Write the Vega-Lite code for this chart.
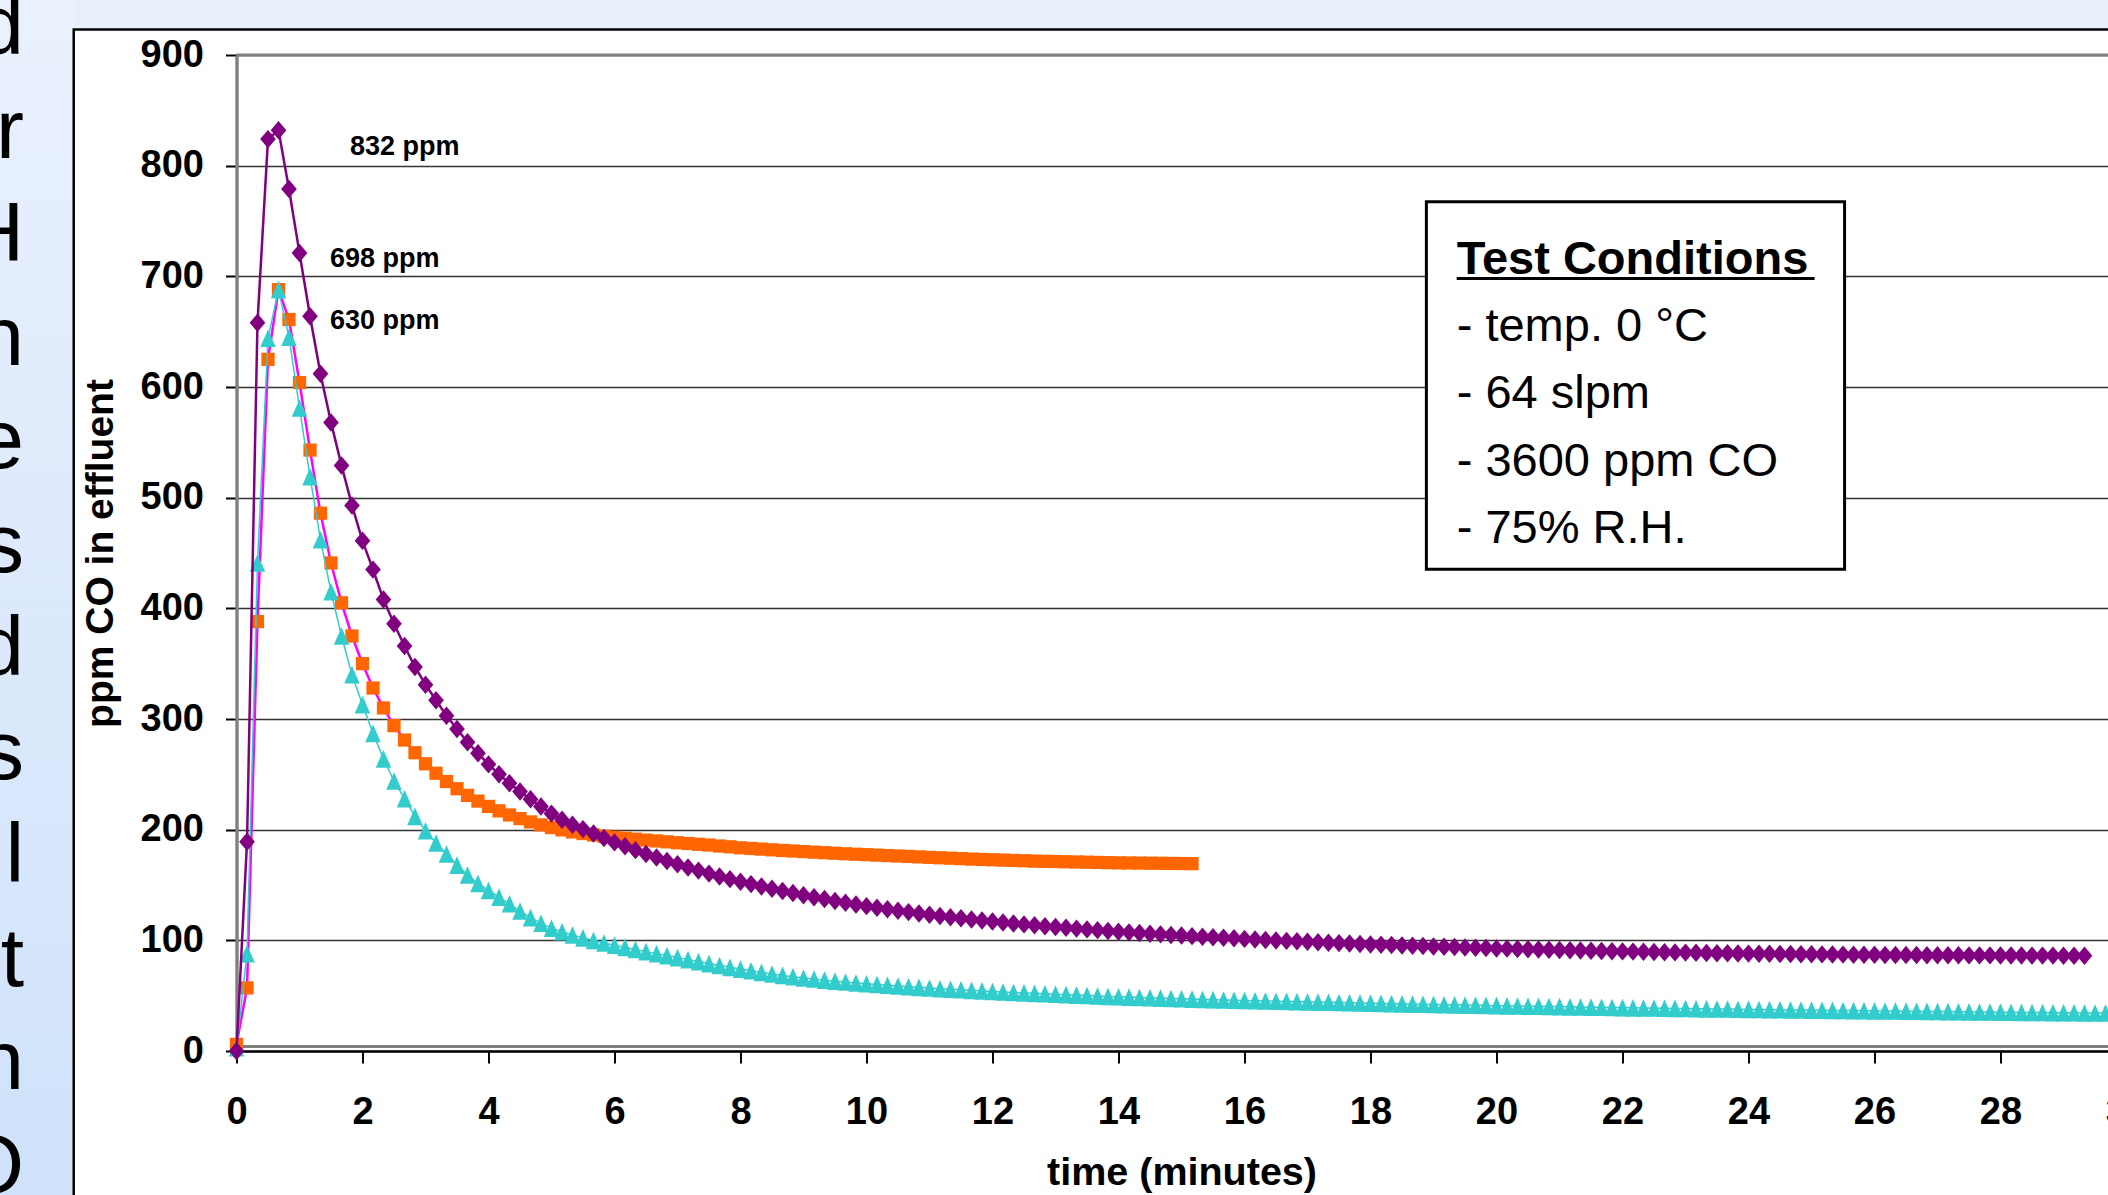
{
  "$schema": "https://vega.github.io/schema/vega-lite/v6.json",
  "width": 1871.5,
  "height": 996,
  "autosize": {"type": "none"},
  "padding": {"left": 236.5, "top": 55, "right": 0, "bottom": 144},
  "background": "white",
  "config": {"view": {"stroke": null}, "font": "Liberation Sans"},
  "datasets": {
    "purple": [
      {"t":0,"v":0},{"t":0.167,"v":189},{"t":0.333,"v":658},{"t":0.5,"v":824},{"t":0.667,"v":832},{"t":0.833,"v":779},
      {"t":1,"v":721},{"t":1.167,"v":664},{"t":1.333,"v":612},{"t":1.5,"v":568},{"t":1.667,"v":529},{"t":1.833,"v":493},
      {"t":2,"v":461},{"t":2.167,"v":435},{"t":2.333,"v":408},{"t":2.5,"v":386},{"t":2.667,"v":366},{"t":2.833,"v":347},
      {"t":3,"v":331},{"t":3.167,"v":317},{"t":3.333,"v":303},{"t":3.5,"v":291},{"t":3.667,"v":279},{"t":3.833,"v":269},
      {"t":4,"v":259},{"t":4.167,"v":250},{"t":4.333,"v":242},{"t":4.5,"v":234.5},{"t":4.667,"v":227.5},{"t":4.833,"v":221},
      {"t":5,"v":214.5},{"t":5.167,"v":209},{"t":5.333,"v":204.5},{"t":5.5,"v":200.5},{"t":5.667,"v":196.5},{"t":5.833,"v":192.5},
      {"t":6,"v":188.5},{"t":6.167,"v":185},{"t":6.333,"v":181.5},{"t":6.5,"v":178},{"t":6.667,"v":174.8},{"t":6.833,"v":171.7},
      {"t":7,"v":168.7},{"t":7.167,"v":165.8},{"t":7.333,"v":163},{"t":7.5,"v":160.3},{"t":7.667,"v":157.7},{"t":7.833,"v":155.3},
      {"t":8,"v":153},{"t":8.167,"v":150.8},{"t":8.333,"v":148.7},{"t":8.5,"v":146.6},{"t":8.667,"v":144.6},{"t":8.833,"v":142.7},
      {"t":9,"v":140.8},{"t":9.167,"v":139},{"t":9.333,"v":137.3},{"t":9.5,"v":135.6},{"t":9.667,"v":134},{"t":9.833,"v":132.4},
      {"t":10,"v":130.9},{"t":10.167,"v":129.5},{"t":10.333,"v":128.1},{"t":10.5,"v":126.8},{"t":10.667,"v":125.5},{"t":10.833,"v":124.3},
      {"t":11,"v":123.1},{"t":11.167,"v":122},{"t":11.333,"v":120.9},{"t":11.5,"v":119.9},{"t":11.667,"v":118.9},{"t":11.833,"v":117.9},
      {"t":12,"v":117},{"t":12.167,"v":116.1},{"t":12.333,"v":115.2},{"t":12.5,"v":114.4},{"t":12.667,"v":113.6},{"t":12.833,"v":112.8},
      {"t":13,"v":112},{"t":13.167,"v":111.3},{"t":13.333,"v":110.6},{"t":13.5,"v":109.9},{"t":13.667,"v":109.2},{"t":13.833,"v":108.5},
      {"t":14,"v":107.8},{"t":14.167,"v":107.2},{"t":14.333,"v":106.6},{"t":14.5,"v":106},{"t":14.667,"v":105.4},{"t":14.833,"v":104.8},
      {"t":15,"v":104.3},{"t":15.167,"v":103.8},{"t":15.333,"v":103.3},{"t":15.5,"v":102.8},{"t":15.667,"v":102.3},{"t":15.833,"v":101.8},
      {"t":16,"v":101.3},{"t":16.167,"v":100.8},{"t":16.333,"v":100.3},{"t":16.5,"v":99.9},{"t":16.667,"v":99.5},{"t":16.833,"v":99.1},
      {"t":17,"v":98.7},{"t":17.167,"v":98.3},{"t":17.333,"v":97.9},{"t":17.5,"v":97.5},{"t":17.667,"v":97.1},{"t":17.833,"v":96.7},
      {"t":18,"v":96.3},{"t":18.167,"v":96},{"t":18.333,"v":95.7},{"t":18.5,"v":95.4},{"t":18.667,"v":95.1},{"t":18.833,"v":94.8},
      {"t":19,"v":94.5},{"t":19.167,"v":94.2},{"t":19.333,"v":93.9},{"t":19.5,"v":93.6},{"t":19.667,"v":93.3},{"t":19.833,"v":93},
      {"t":20,"v":92.7},{"t":20.167,"v":92.5},{"t":20.333,"v":92.2},{"t":20.5,"v":92},{"t":20.667,"v":91.7},{"t":20.833,"v":91.5},
      {"t":21,"v":91.2},{"t":21.167,"v":91},{"t":21.333,"v":90.8},{"t":21.5,"v":90.6},{"t":21.667,"v":90.4},{"t":21.833,"v":90.2},
      {"t":22,"v":90},{"t":22.167,"v":89.8},{"t":22.333,"v":89.6},{"t":22.5,"v":89.4},{"t":22.667,"v":89.2},{"t":22.833,"v":89.1},
      {"t":23,"v":88.9},{"t":23.167,"v":88.7},{"t":23.333,"v":88.6},{"t":23.5,"v":88.4},{"t":23.667,"v":88.3},{"t":23.833,"v":88.1},
      {"t":24,"v":88},{"t":24.167,"v":87.9},{"t":24.333,"v":87.8},{"t":24.5,"v":87.7},{"t":24.667,"v":87.6},{"t":24.833,"v":87.5},
      {"t":25,"v":87.4},{"t":25.167,"v":87.3},{"t":25.333,"v":87.2},{"t":25.5,"v":87.1},{"t":25.667,"v":87},{"t":25.833,"v":86.9},
      {"t":26,"v":86.9},{"t":26.167,"v":86.8},{"t":26.333,"v":86.8},{"t":26.5,"v":86.7},{"t":26.667,"v":86.7},{"t":26.833,"v":86.6},
      {"t":27,"v":86.6},{"t":27.167,"v":86.5},{"t":27.333,"v":86.5},{"t":27.5,"v":86.4},{"t":27.667,"v":86.4},{"t":27.833,"v":86.4},
      {"t":28,"v":86.3},{"t":28.167,"v":86.3},{"t":28.333,"v":86.3},{"t":28.5,"v":86.2},{"t":28.667,"v":86.2},{"t":28.833,"v":86.2},
      {"t":29,"v":86.1},{"t":29.167,"v":86.1},{"t":29.333,"v":86.1}
    ],
    "orange": [
      {"t":0,"v":6},{"t":0.167,"v":57},{"t":0.333,"v":388},{"t":0.5,"v":625},{"t":0.667,"v":688},{"t":0.833,"v":661},
      {"t":1,"v":604},{"t":1.167,"v":543},{"t":1.333,"v":486},{"t":1.5,"v":441},{"t":1.667,"v":405},{"t":1.833,"v":375},
      {"t":2,"v":350},{"t":2.167,"v":328},{"t":2.333,"v":310},{"t":2.5,"v":294},{"t":2.667,"v":281},{"t":2.833,"v":269.5},
      {"t":3,"v":259.5},{"t":3.167,"v":251},{"t":3.333,"v":243.5},{"t":3.5,"v":237},{"t":3.667,"v":231},{"t":3.833,"v":225.8},
      {"t":4,"v":221},{"t":4.167,"v":217},{"t":4.333,"v":213.3},{"t":4.5,"v":210},{"t":4.667,"v":207},{"t":4.833,"v":204.3},
      {"t":5,"v":201.9},{"t":5.167,"v":199.8},{"t":5.333,"v":198},{"t":5.5,"v":196.5},{"t":5.667,"v":195.2},{"t":5.833,"v":194.1},
      {"t":6,"v":193.1},{"t":6.167,"v":192.2},{"t":6.333,"v":191.4},{"t":6.5,"v":190.6},{"t":6.667,"v":189.8},{"t":6.833,"v":189},
      {"t":7,"v":188.2},{"t":7.167,"v":187.5},{"t":7.333,"v":186.8},{"t":7.5,"v":186.1},{"t":7.667,"v":185.2},{"t":7.833,"v":184.5},
      {"t":8,"v":183.6},{"t":8.167,"v":183},{"t":8.333,"v":182.4},{"t":8.5,"v":181.8},{"t":8.667,"v":181.2},{"t":8.833,"v":180.7},
      {"t":9,"v":180.2},{"t":9.167,"v":179.7},{"t":9.333,"v":179.2},{"t":9.5,"v":178.7},{"t":9.667,"v":178.2},{"t":9.833,"v":177.8},
      {"t":10,"v":177.4},{"t":10.167,"v":177},{"t":10.333,"v":176.6},{"t":10.5,"v":176.2},{"t":10.667,"v":175.8},{"t":10.833,"v":175.4},
      {"t":11,"v":175},{"t":11.167,"v":174.6},{"t":11.333,"v":174.2},{"t":11.5,"v":173.8},{"t":11.667,"v":173.4},{"t":11.833,"v":173.1},
      {"t":12,"v":172.8},{"t":12.167,"v":172.5},{"t":12.333,"v":172.2},{"t":12.5,"v":171.9},{"t":12.667,"v":171.6},{"t":12.833,"v":171.4},
      {"t":13,"v":171.2},{"t":13.167,"v":171},{"t":13.333,"v":170.8},{"t":13.5,"v":170.6},{"t":13.667,"v":170.4},{"t":13.833,"v":170.2},
      {"t":14,"v":170},{"t":14.167,"v":169.9},{"t":14.333,"v":169.8},{"t":14.5,"v":169.7},{"t":14.667,"v":169.6},{"t":14.833,"v":169.5},
      {"t":15,"v":169.4},{"t":15.167,"v":169.3}
    ],
    "cyan": [
      {"t":0,"v":3},{"t":0.167,"v":88},{"t":0.333,"v":441},{"t":0.5,"v":644},{"t":0.667,"v":688},{"t":0.833,"v":645},
      {"t":1,"v":581},{"t":1.167,"v":519},{"t":1.333,"v":462},{"t":1.5,"v":415},{"t":1.667,"v":375},{"t":1.833,"v":340},
      {"t":2,"v":313},{"t":2.167,"v":287},{"t":2.333,"v":264},{"t":2.5,"v":244},{"t":2.667,"v":228},{"t":2.833,"v":212},
      {"t":3,"v":199},{"t":3.167,"v":188},{"t":3.333,"v":178},{"t":3.5,"v":168},{"t":3.667,"v":159},{"t":3.833,"v":151.5},
      {"t":4,"v":145},{"t":4.167,"v":139},{"t":4.333,"v":133},{"t":4.5,"v":126.5},{"t":4.667,"v":120.5},{"t":4.833,"v":115.5},
      {"t":5,"v":111},{"t":5.167,"v":107.7},{"t":5.333,"v":104.8},{"t":5.5,"v":102.2},{"t":5.667,"v":99.8},{"t":5.833,"v":97.6},
      {"t":6,"v":95.6},{"t":6.167,"v":93.6},{"t":6.333,"v":91.7},{"t":6.5,"v":89.8},{"t":6.667,"v":88},{"t":6.833,"v":86.2},
      {"t":7,"v":84.4},{"t":7.167,"v":82.6},{"t":7.333,"v":80.8},{"t":7.5,"v":79},{"t":7.667,"v":77.3},{"t":7.833,"v":75.6},
      {"t":8,"v":74},{"t":8.167,"v":72.5},{"t":8.333,"v":71},{"t":8.5,"v":69.6},{"t":8.667,"v":68.3},{"t":8.833,"v":67.1},
      {"t":9,"v":66},{"t":9.167,"v":65},{"t":9.333,"v":64},{"t":9.5,"v":63.1},{"t":9.667,"v":62.3},{"t":9.833,"v":61.5},
      {"t":10,"v":60.8},{"t":10.167,"v":60.1},{"t":10.333,"v":59.4},{"t":10.5,"v":58.7},{"t":10.667,"v":58.1},{"t":10.833,"v":57.5},
      {"t":11,"v":56.9},{"t":11.167,"v":56.3},{"t":11.333,"v":55.8},{"t":11.5,"v":55.3},{"t":11.667,"v":54.8},{"t":11.833,"v":54.3},
      {"t":12,"v":53.8},{"t":12.167,"v":53.3},{"t":12.333,"v":52.9},{"t":12.5,"v":52.5},{"t":12.667,"v":52.1},{"t":12.833,"v":51.7},
      {"t":13,"v":51.3},{"t":13.167,"v":50.9},{"t":13.333,"v":50.5},{"t":13.5,"v":50.1},{"t":13.667,"v":49.7},{"t":13.833,"v":49.3},
      {"t":14,"v":49},{"t":14.167,"v":48.7},{"t":14.333,"v":48.4},{"t":14.5,"v":48.1},{"t":14.667,"v":47.8},{"t":14.833,"v":47.5},
      {"t":15,"v":47.2},{"t":15.167,"v":46.9},{"t":15.333,"v":46.6},{"t":15.5,"v":46.4},{"t":15.667,"v":46.1},{"t":15.833,"v":45.9},
      {"t":16,"v":45.6},{"t":16.167,"v":45.4},{"t":16.333,"v":45.2},{"t":16.5,"v":45},{"t":16.667,"v":44.8},{"t":16.833,"v":44.6},
      {"t":17,"v":44.4},{"t":17.167,"v":44.2},{"t":17.333,"v":44},{"t":17.5,"v":43.8},{"t":17.667,"v":43.6},{"t":17.833,"v":43.4},
      {"t":18,"v":43.2},{"t":18.167,"v":43},{"t":18.333,"v":42.8},{"t":18.5,"v":42.6},{"t":18.667,"v":42.4},{"t":18.833,"v":42.2},
      {"t":19,"v":42},{"t":19.167,"v":41.8},{"t":19.333,"v":41.7},{"t":19.5,"v":41.5},{"t":19.667,"v":41.3},{"t":19.833,"v":41.2},
      {"t":20,"v":41},{"t":20.167,"v":40.8},{"t":20.333,"v":40.7},{"t":20.5,"v":40.5},{"t":20.667,"v":40.4},{"t":20.833,"v":40.2},
      {"t":21,"v":40.1},{"t":21.167,"v":39.9},{"t":21.333,"v":39.8},{"t":21.5,"v":39.6},{"t":21.667,"v":39.5},{"t":21.833,"v":39.3},
      {"t":22,"v":39.2},{"t":22.167,"v":39},{"t":22.333,"v":38.9},{"t":22.5,"v":38.8},{"t":22.667,"v":38.6},{"t":22.833,"v":38.5},
      {"t":23,"v":38.4},{"t":23.167,"v":38.2},{"t":23.333,"v":38.1},{"t":23.5,"v":38},{"t":23.667,"v":37.9},{"t":23.833,"v":37.7},
      {"t":24,"v":37.6},{"t":24.167,"v":37.5},{"t":24.333,"v":37.4},{"t":24.5,"v":37.3},{"t":24.667,"v":37.1},{"t":24.833,"v":37},
      {"t":25,"v":36.9},{"t":25.167,"v":36.8},{"t":25.333,"v":36.7},{"t":25.5,"v":36.6},{"t":25.667,"v":36.5},{"t":25.833,"v":36.4},
      {"t":26,"v":36.3},{"t":26.167,"v":36.2},{"t":26.333,"v":36.1},{"t":26.5,"v":36},{"t":26.667,"v":35.9},{"t":26.833,"v":35.8},
      {"t":27,"v":35.7},{"t":27.167,"v":35.6},{"t":27.333,"v":35.5},{"t":27.5,"v":35.4},{"t":27.667,"v":35.3},{"t":27.833,"v":35.2},
      {"t":28,"v":35.1},{"t":28.167,"v":35},{"t":28.333,"v":34.9},{"t":28.5,"v":34.8},{"t":28.667,"v":34.8},{"t":28.833,"v":34.7},
      {"t":29,"v":34.6},{"t":29.167,"v":34.5},{"t":29.333,"v":34.4},{"t":29.5,"v":34.4},{"t":29.667,"v":34.3},{"t":29.833,"v":34.2},
      {"t":30,"v":34.1}
    ],
    "notes": [
      {"label": "832 ppm", "t": 1.801, "v": 809.4},
      {"label": "698 ppm", "t": 1.484, "v": 708.5},
      {"label": "630 ppm", "t": 1.484, "v": 652.8}
    ]
  },
  "layer": [
    {
      "data": {"values": [{}]},
      "mark": {"type": "rect", "color": {"gradient": "linear", "x1": 0, "y1": 0, "x2": 0, "y2": 1, "stops": [{"offset": 0, "color": "#EAF1FD"}, {"offset": 1, "color": "#CFE2FA"}]}},
      "encoding": {
        "x": {"datum": -3.76, "type": "quantitative", "scale": {"domain": [0, 30], "range": [0, 1890], "nice": false, "zero": false}},
        "x2": {"datum": -2.602},
        "y": {"datum": 950, "type": "quantitative", "scale": {"domain": [0, 900], "nice": false, "zero": false}},
        "y2": {"datum": -131}
      }
    },
    {
      "data": {"values": [{}]},
      "mark": {"type": "rect", "color": "#E8F0FC"},
      "encoding": {
        "x": {"datum": -2.602, "type": "quantitative", "scale": {"domain": [0, 30], "range": [0, 1890], "nice": false, "zero": false}},
        "x2": {"datum": 32},
        "y": {"datum": 950, "type": "quantitative", "scale": {"domain": [0, 900], "nice": false, "zero": false}},
        "y2": {"datum": 923.5}
      }
    },
    {
      "data": {"values": [{}]},
      "mark": {"type": "rect", "filled": false, "color": "#000000", "strokeWidth": 2.5},
      "encoding": {
        "x": {"datum": -2.584, "type": "quantitative", "scale": {"domain": [0, 30], "range": [0, 1890], "nice": false, "zero": false}},
        "x2": {"datum": 40},
        "y": {"datum": 923, "type": "quantitative", "scale": {"domain": [0, 900], "nice": false, "zero": false}},
        "y2": {"datum": -140}
      }
    },
    {
      "data": {"values": [{}]},
      "mark": {"type": "text", "text": ["d", "r", "H", "n", "e", "s", "d", "s", "l", "t", "n", "O"], "font": "Liberation Sans", "fontSize": 84, "align": "right", "baseline": "alphabetic", "lineHeight": 103.5, "color": "#000000"},
      "encoding": {
        "x": {"datum": -3.372, "type": "quantitative", "scale": {"domain": [0, 30], "range": [0, 1890], "nice": false, "zero": false}},
        "y": {"datum": 900.9, "type": "quantitative", "scale": {"domain": [0, 900], "nice": false, "zero": false}}
      }
    },
    {
      "data": {"name": "orange"},
      "mark": {"type": "line", "color": "#FF00FF", "strokeWidth": 2.5},
      "encoding": {
        "x": {
          "field": "t", "type": "quantitative",
          "scale": {"domain": [0, 30], "range": [0, 1890], "nice": false, "zero": false},
          "axis": {
            "values": [0, 2, 4, 6, 8, 10, 12, 14, 16, 18, 20, 22, 24, 26, 28, 30],
            "format": "d",
            "grid": false,
            "labelFlush": false,
            "domainColor": "#000000", "domainWidth": 2.5,
            "tickColor": "#000000", "tickWidth": 2, "tickSize": 12,
            "labelFont": "Liberation Sans", "labelFontSize": 38, "labelFontWeight": "bold", "labelColor": "#000000", "labelPadding": 30,
            "title": "time (minutes)",
            "titleFont": "Liberation Sans", "titleFontSize": 39.5, "titleFontWeight": "bold", "titleColor": "#000000", "titlePadding": 22
          }
        },
        "y": {
          "field": "v", "type": "quantitative",
          "scale": {"domain": [0, 900], "nice": false, "zero": false},
          "axis": {
            "values": [0, 100, 200, 300, 400, 500, 600, 700, 800, 900],
            "format": "d",
            "grid": true,
            "gridColor": "#333333", "gridWidth": 1.4,
            "domainColor": "#808080", "domainWidth": 3.4,
            "tickColor": "#000000", "tickWidth": 2, "tickSize": 11,
            "labelFont": "Liberation Sans", "labelFontSize": 38, "labelFontWeight": "bold", "labelColor": "#000000", "labelPadding": 22,
            "title": "ppm CO in effluent",
            "titleFont": "Liberation Sans", "titleFontSize": 39, "titleFontWeight": "bold", "titleColor": "#000000", "titlePadding": 20
          }
        }
      }
    },
    {
      "data": {"values": [{}]},
      "mark": {"type": "rule", "color": "#808080", "strokeWidth": 3},
      "encoding": {
        "x": {"datum": 0, "type": "quantitative", "scale": {"domain": [0, 30], "range": [0, 1890], "nice": false, "zero": false}},
        "x2": {"datum": 30},
        "y": {"datum": 4, "type": "quantitative", "scale": {"domain": [0, 900], "nice": false, "zero": false}}
      }
    },
    {
      "data": {"values": [{}]},
      "mark": {"type": "rule", "color": "#808080", "strokeWidth": 3},
      "encoding": {
        "x": {"datum": 0, "type": "quantitative", "scale": {"domain": [0, 30], "range": [0, 1890], "nice": false, "zero": false}},
        "x2": {"datum": 30},
        "y": {"datum": 900, "type": "quantitative", "scale": {"domain": [0, 900], "nice": false, "zero": false}}
      }
    },
    {
      "data": {"name": "orange"},
      "mark": {"type": "point", "shape": "square", "filled": true, "color": "#FF6600", "size": 175, "opacity": 1, "strokeWidth": 0},
      "encoding": {
        "x": {"field": "t", "type": "quantitative", "scale": {"domain": [0, 30], "range": [0, 1890], "nice": false, "zero": false}},
        "y": {"field": "v", "type": "quantitative", "scale": {"domain": [0, 900], "nice": false, "zero": false}}
      }
    },
    {
      "data": {"name": "cyan"},
      "mark": {"type": "line", "color": "#33CCCC", "strokeWidth": 1.5},
      "encoding": {
        "x": {"field": "t", "type": "quantitative", "scale": {"domain": [0, 30], "range": [0, 1890], "nice": false, "zero": false}},
        "y": {"field": "v", "type": "quantitative", "scale": {"domain": [0, 900], "nice": false, "zero": false}}
      }
    },
    {
      "data": {"name": "cyan"},
      "mark": {"type": "point", "shape": "M0,-1L0.88,1L-0.88,1Z", "filled": true, "color": "#33CCCC", "size": 310, "opacity": 1, "strokeWidth": 0},
      "encoding": {
        "x": {"field": "t", "type": "quantitative", "scale": {"domain": [0, 30], "range": [0, 1890], "nice": false, "zero": false}},
        "y": {"field": "v", "type": "quantitative", "scale": {"domain": [0, 900], "nice": false, "zero": false}}
      }
    },
    {
      "data": {"name": "purple"},
      "mark": {"type": "line", "color": "#800080", "strokeWidth": 2.5},
      "encoding": {
        "x": {"field": "t", "type": "quantitative", "scale": {"domain": [0, 30], "range": [0, 1890], "nice": false, "zero": false}},
        "y": {"field": "v", "type": "quantitative", "scale": {"domain": [0, 900], "nice": false, "zero": false}}
      }
    },
    {
      "data": {"name": "purple"},
      "mark": {"type": "point", "shape": "M0,-1L0.85,0L0,1L-0.85,0Z", "filled": true, "color": "#800080", "size": 340, "opacity": 1, "strokeWidth": 0},
      "encoding": {
        "x": {"field": "t", "type": "quantitative", "scale": {"domain": [0, 30], "range": [0, 1890], "nice": false, "zero": false}},
        "y": {"field": "v", "type": "quantitative", "scale": {"domain": [0, 900], "nice": false, "zero": false}}
      }
    },
    {
      "data": {"name": "notes"},
      "mark": {"type": "text", "font": "Liberation Sans", "fontSize": 27, "fontWeight": "bold", "align": "left", "baseline": "alphabetic", "color": "#000000"},
      "encoding": {
        "x": {"field": "t", "type": "quantitative", "scale": {"domain": [0, 30], "range": [0, 1890], "nice": false, "zero": false}},
        "y": {"field": "v", "type": "quantitative", "scale": {"domain": [0, 900], "nice": false, "zero": false}},
        "text": {"field": "label"}
      }
    },
    {
      "data": {"values": [{}]},
      "mark": {"type": "rect", "fill": "#FFFFFF", "stroke": "#000000", "strokeWidth": 3},
      "encoding": {
        "x": {"datum": 18.887, "type": "quantitative", "scale": {"domain": [0, 30], "range": [0, 1890], "nice": false, "zero": false}},
        "x2": {"datum": 25.525},
        "y": {"datum": 767.4, "type": "quantitative", "scale": {"domain": [0, 900], "nice": false, "zero": false}},
        "y2": {"datum": 435.3}
      }
    },
    {
      "data": {"values": [{}]},
      "mark": {"type": "text", "text": "Test Conditions", "font": "Liberation Sans", "fontSize": 47, "fontWeight": "bold", "align": "left", "baseline": "alphabetic", "color": "#000000"},
      "encoding": {
        "x": {"datum": 19.368, "type": "quantitative", "scale": {"domain": [0, 30], "range": [0, 1890], "nice": false, "zero": false}},
        "y": {"datum": 701.8, "type": "quantitative", "scale": {"domain": [0, 900], "nice": false, "zero": false}}
      }
    },
    {
      "data": {"values": [{}]},
      "mark": {"type": "rule", "color": "#000000", "strokeWidth": 3},
      "encoding": {
        "x": {"datum": 19.368, "type": "quantitative", "scale": {"domain": [0, 30], "range": [0, 1890], "nice": false, "zero": false}},
        "x2": {"datum": 25.049},
        "y": {"datum": 698, "type": "quantitative", "scale": {"domain": [0, 900], "nice": false, "zero": false}}
      }
    },
    {
      "data": {"values": [{}]},
      "mark": {"type": "text", "text": ["- temp. 0 °C", "- 64 slpm", "- 3600 ppm CO", "- 75% R.H."], "font": "Liberation Sans", "fontSize": 47, "align": "left", "baseline": "alphabetic", "lineHeight": 67.5, "color": "#000000"},
      "encoding": {
        "x": {"datum": 19.368, "type": "quantitative", "scale": {"domain": [0, 30], "range": [0, 1890], "nice": false, "zero": false}},
        "y": {"datum": 641.8, "type": "quantitative", "scale": {"domain": [0, 900], "nice": false, "zero": false}}
      }
    }
  ]
}
